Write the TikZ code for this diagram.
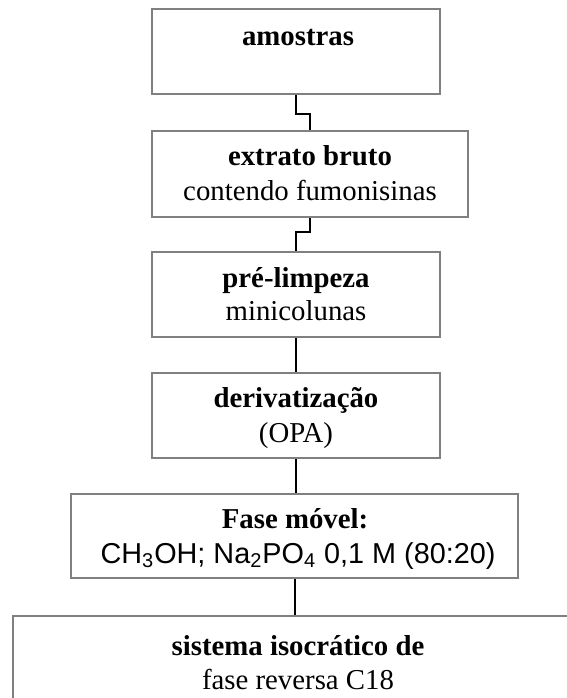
\documentclass[tikz,border=0pt]{standalone}
\usepackage{fontspec}
\setmainfont{Liberation Serif}
\newfontfamily\sansarial{Liberation Sans}
\definecolor{boxgray}{HTML}{808080}
\begin{document}
\begin{tikzpicture}[x=0.5pt,y=-0.5pt,
  stepbox/.style={draw=boxgray, line width=1.25pt, fill=white, inner sep=0pt},
  txt/.style={anchor=base, inner sep=0pt, font=\fontsize{14.4}{17}\selectfont},
  link/.style={draw=black, line width=1pt}]
\clip (0,0) rectangle (567,698);

% boxes
\node[stepbox, minimum width=144pt, minimum height=42.5pt] (b1) at (296,51.5) {};
\node[stepbox, minimum width=158pt, minimum height=43pt]   (b2) at (310,174) {};
\node[stepbox, minimum width=144pt, minimum height=42.5pt] (b3) at (296,294.5) {};
\node[stepbox, minimum width=144pt, minimum height=42.5pt] (b4) at (296,415.5) {};
\node[stepbox, minimum width=223.5pt, minimum height=42pt] (b5) at (294.5,536) {};
\node[stepbox, minimum width=282pt, minimum height=62pt]   (b6) at (295,678) {};

% labels
\node[txt] (t1)  at (298,45)  {\bfseries amostras};
\node[txt] (t2a) at (310,165) {\bfseries extrato bruto};
\node[txt] (t2b) at (310,200) {contendo fumonisinas};
\node[txt] (t3a) at (296,287) {\bfseries pré-limpeza};
\node[txt] (t3b) at (296,320) {minicolunas};
\node[txt] (t4a) at (296,407) {\bfseries derivatização};
\node[txt] (t4b) at (296,442) {(OPA)};
\node[txt] (t5a) at (295,528) {\bfseries Fase móvel:};
\node[txt] (t5b) at (298,563) {\sansarial CH\textsubscript{3}OH; Na\textsubscript{2}PO\textsubscript{4} 0,1 M (80:20)};
\node[txt] (t6a) at (298,655) {\bfseries sistema isocrático de};
\node[txt] (t6b) at (298,689) {fase reversa C18};

% connectors
\draw[link] (b1.south) -- ++(0,19) -| (b2.north);
\draw[link] (b2.south) -- ++(0,14) -| (b3.north);
\draw[link] (b3.south) -- (b4.north);
\draw[link] (b4.south) -- (b4.south |- b5.north);
\draw[link] (b5.south) -- (b5.south |- b6.north);
\end{tikzpicture}
\end{document}
